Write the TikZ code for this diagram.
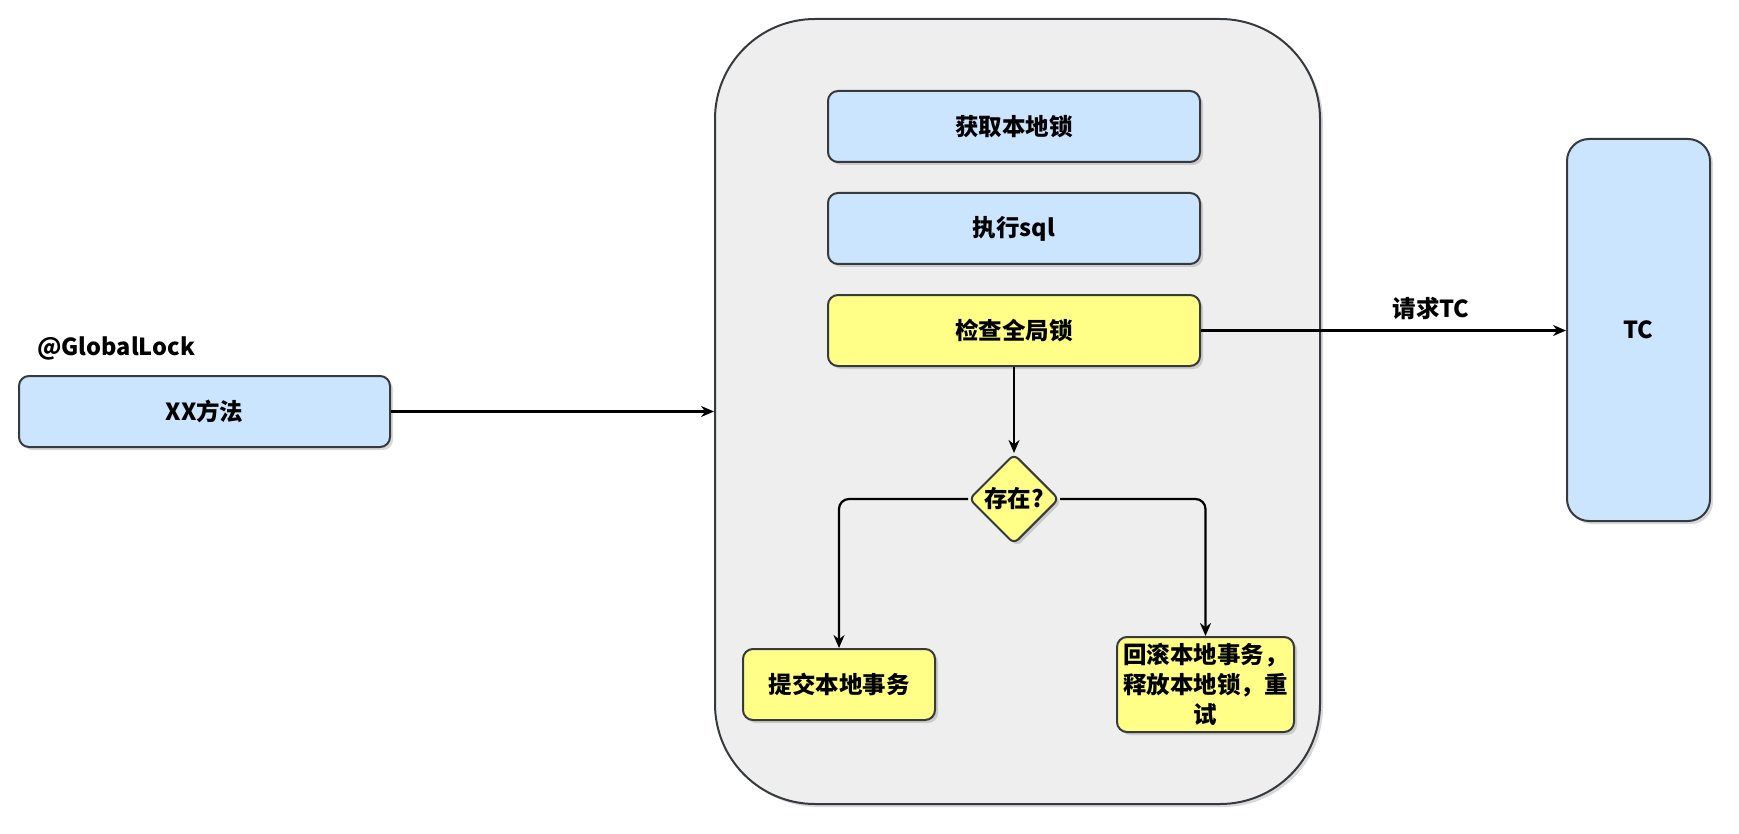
\documentclass[tikz,border=0pt]{standalone}
\usepackage{fontspec}
\setmainfont{Noto Sans CJK SC}
\usetikzlibrary{shapes.geometric,arrows.meta,shadows}
\definecolor{boxblue}{HTML}{CCE5FF}
\definecolor{boxyellow}{HTML}{FFFF88}
\definecolor{boxline}{HTML}{36393D}
\definecolor{panel}{HTML}{EEEEEE}
\tikzset{
  shd/.style={drop shadow={shadow xshift=3pt,shadow yshift=-3pt,opacity=0.25,fill=black!60}},
  txt/.style={font=\fontsize{23.5}{30}\selectfont\bfseries},
  bluebox/.style={draw=boxline,line width=2pt,fill=boxblue,rounded corners=10pt,shd,txt,inner sep=0pt,align=center},
  yelbox/.style={draw=boxline,line width=2pt,fill=boxyellow,rounded corners=10pt,shd,txt,inner sep=0pt,align=center},
  conn/.style={draw=black,line width=2.2pt,-{Stealth[length=13pt,width=11pt]},rounded corners=10pt},
  lbl/.style={txt,inner sep=0pt}
}
\begin{document}
\begin{tikzpicture}[x=1pt,y=-1pt]
\useasboundingbox (0,0) rectangle (1739,834);
% container
\node[draw=boxline,line width=2pt,fill=panel,rounded corners=100pt,shd,minimum width=605pt,minimum height=785pt,inner sep=0pt] (panel) at (1017.5,411.5) {};
% boxes
\node[bluebox,minimum width=372pt,minimum height=71pt] (lock) at (1014,126.5) {获取本地锁};
\node[bluebox,minimum width=372pt,minimum height=71pt] (sql) at (1014,228.5) {执行sql};
\node[yelbox,minimum width=372pt,minimum height=71pt] (check) at (1014,330.5) {检查全局锁};
\node[diamond,draw=boxline,line width=2pt,fill=boxyellow,rounded corners=6pt,shd,txt,inner sep=0pt,minimum width=90pt,minimum height=90pt] (exist) at (1014,499) {存在?};
\node[yelbox,minimum width=192pt,minimum height=71pt] (commit) at (839,684.5) {提交本地事务};
\node[yelbox,minimum width=177pt,minimum height=95pt,text width=176pt] (rollback) at (1205.5,684.5) {回滚本地事务，\\释放本地锁，重\\试};
\node[bluebox,rounded corners=22pt,minimum width=143pt,minimum height=382pt] (tc) at (1638.5,330) {TC};
\node[bluebox,minimum width=371pt,minimum height=71pt] (xx) at (204.5,411.5) {XX方法};
\node[lbl,anchor=west] (anno) at (37,348) {@GlobalLock};
% connectors
\draw[conn] (xx.east) -- (xx.east -| panel.west);
\draw[conn] (check.east) -- node[lbl,pos=0.63,above=10pt] (req) {请求TC} (check.east -| tc.west);
\draw[conn] (check.south) -- (exist.north);
\draw[conn] (exist.west) -| (commit.north);
\draw[conn] (exist.east) -| (rollback.north);
\end{tikzpicture}
\end{document}
